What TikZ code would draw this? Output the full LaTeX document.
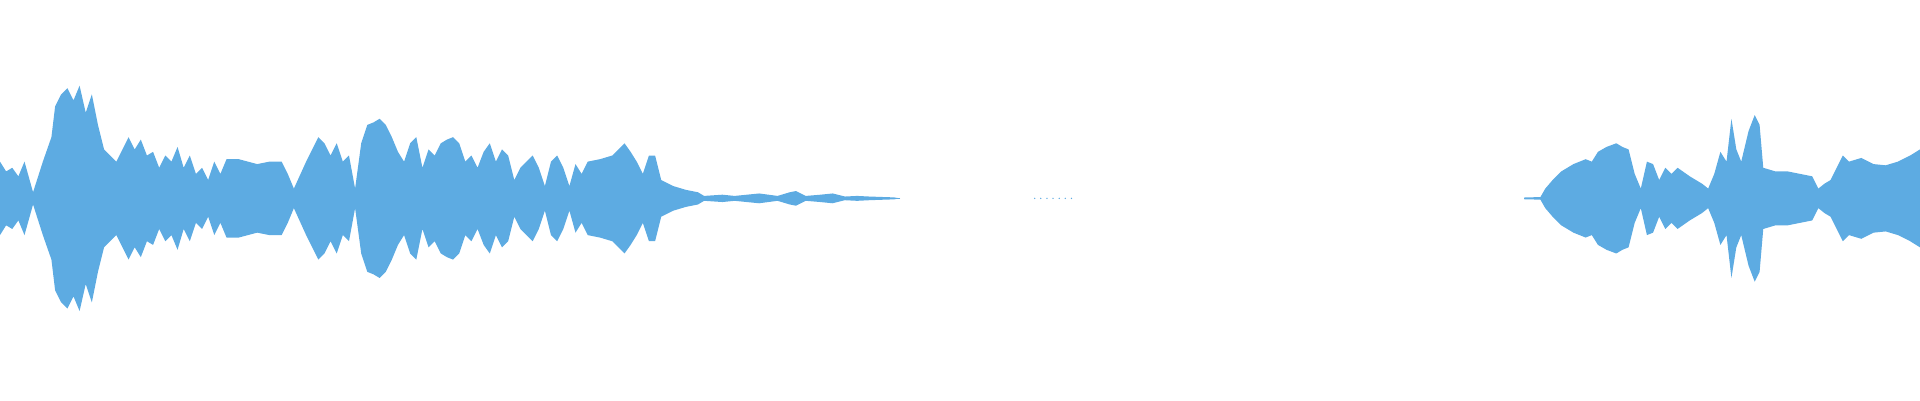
\documentclass[tikz,border=0pt]{standalone}
\usepackage{tikz}
\definecolor{wave}{RGB}{93,171,226}
\newcommand{\speechA}{(0,0) -- (0,30) -- (5,22) -- (10,25) -- (15,18) -- (20,30) -- (27,5) -- (35,30) -- (42,50) -- (45,75) -- (50,85) -- (55,90) -- (60,80) -- (65,92) -- (70,70) -- (75,85) -- (80,60) -- (85,40) -- (90,35) -- (95,30) -- (100,40) -- (105,50) -- (110,40) -- (115,48) -- (120,35) -- (125,38) -- (130,25) -- (135,35) -- (140,30) -- (145,42) -- (150,25) -- (155,35) -- (160,20) -- (165,25) -- (170,15) -- (175,30) -- (180,20) -- (185,32) -- (195,32) -- (210,28) -- (220,30) -- (230,30) -- (235,20) -- (240,8) -- (250,30) -- (255,40) -- (260,50) -- (265,45) -- (270,35) -- (275,45) -- (280,30) -- (285,35) -- (290,8) -- (295,45) -- (300,60) -- (305,62) -- (310,65) -- (315,60) -- (320,50) -- (325,38) -- (330,30) -- (335,45) -- (340,50) -- (345,25) -- (350,40) -- (355,35) -- (360,45) -- (365,48) -- (370,50) -- (375,45) -- (380,30) -- (385,35) -- (390,25) -- (395,38) -- (400,45) -- (405,30) -- (410,40) -- (415,35) -- (420,15) -- (425,25) -- (430,30) -- (435,35) -- (440,25) -- (445,10) -- (450,30) -- (455,35) -- (460,25) -- (465,10) -- (470,28) -- (475,20) -- (480,30) -- (490,32) -- (500,35) -- (505,40) -- (510,45) -- (515,38) -- (520,30) -- (525,20) -- (530,35) -- (535,35) -- (540,15) -- (550,10) -- (560,7) -- (570,5) -- (575,2) -- (590,3) -- (600,2) -- (610,3) -- (620,4) -- (635,2) -- (645,5) -- (650,6) -- (658,2) -- (670,3) -- (680,4) -- (690,1.5) -- (700,2) -- (710,1.5) -- (730,0.8) -- (735,0)}
\newcommand{\speechB}{(1245,0) -- (1245,0.8) -- (1258,1) -- (1262,8) -- (1268,15) -- (1275,22) -- (1285,28) -- (1295,32) -- (1300,30) -- (1305,38) -- (1312,42) -- (1320,45) -- (1325,42) -- (1330,40) -- (1335,20) -- (1340,8) -- (1345,30) -- (1350,28) -- (1355,15) -- (1360,25) -- (1365,20) -- (1370,25) -- (1380,18) -- (1390,12) -- (1395,8) -- (1400,20) -- (1405,38) -- (1410,30) -- (1414,65) -- (1418,40) -- (1422,30) -- (1428,55) -- (1433,68) -- (1437,60) -- (1440,25) -- (1450,22) -- (1460,22) -- (1470,20) -- (1480,18) -- (1485,8) -- (1490,12) -- (1495,15) -- (1500,25) -- (1505,35) -- (1510,30) -- (1520,33) -- (1530,28) -- (1540,27) -- (1550,30) -- (1560,35) -- (1568,40) -- (1568,0)}
\begin{document}
\begin{tikzpicture}[x=0.01cm,y=0.01cm]
\useasboundingbox (0,-165) rectangle (1568,162);

% top and bottom halves of the envelope
\fill[wave] \speechA -- cycle;
\fill[wave] \speechB -- cycle;
\begin{scope}[yscale=-1]
\fill[wave] \speechA -- cycle;
\fill[wave] \speechB -- cycle;
\end{scope}
\draw[wave, line width=0.3pt] (0,0) -- (735,0);
\draw[wave, line width=0.3pt] (1245,0) -- (1568,0);

% faint dots in the pause
\foreach \x in {845,850,...,875}
  \fill[wave] (\x,0) circle (0.6);
\end{tikzpicture}
\end{document}
